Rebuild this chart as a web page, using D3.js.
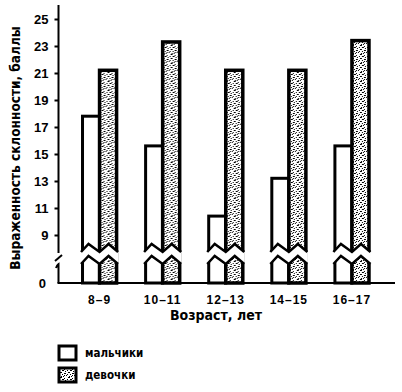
<!DOCTYPE html>
<html>
<head>
<meta charset="utf-8">
<script src="https://cdn.jsdelivr.net/npm/d3@7"></script>
<style>
  body { margin: 0; background: #fff; }
  text { font-family: "Liberation Sans", Arial, sans-serif; font-weight: bold; fill: #000; }
  .narrow { font-family: "Liberation Sans Narrow", "DejaVu Sans Condensed", sans-serif; }
</style>
</head>
<body>
<div id="chart"></div>
<script>
// data
var ages = ["8–9", "10–11", "12–13", "14–15", "16–17"];
var boys = [17.8, 15.6, 10.4, 13.2, 15.6];
var girls = [21.2, 23.3, 21.2, 21.2, 23.4];
var yTicks = [9, 11, 13, 15, 17, 19, 21, 23, 25];
var seriesNames = ["мальчики", "девочки"];

var width = 402, height = 392;
var baseY = 283;      // where the "0" sits
var breakY = 252;     // upper line of the cut

var svg = d3.select("#chart").append("svg")
  .attr("width", width)
  .attr("height", height);

// stipple texture for the girls' bars
var defs = svg.append("defs");
var pat = defs.append("pattern")
  .attr("id", "dots")
  .attr("patternUnits", "userSpaceOnUse")
  .attr("width", 8).attr("height", 9);
pat.append("rect").attr("width", 8).attr("height", 9).attr("fill", "#fff");
[[1,0],[2,0],[5,1],[0,2],[3,2],[4,2],[6,3],[1,4],[2,4],[5,5],[6,5],[0,6],[3,6],[7,7],[2,8],[4,8],[5,7]].forEach(function(p){
  pat.append("rect").attr("x", p[0]).attr("y", p[1]).attr("width", 1).attr("height", 1).attr("fill", "#000");
});

var y = d3.scaleLinear().domain([9, 25]).range([235, 19]);

var x0 = d3.scaleBand()
  .domain(ages)
  .range([68, 383.5])
  .paddingInner(0.46)
  .paddingOuter(0.23);

var x1 = d3.scaleBand()
  .domain(seriesNames)
  .range([0, x0.bandwidth()]);

var rows = ages.map(function(a, i){
  return {age: a, vals: [{name: seriesNames[0], v: boys[i]}, {name: seriesNames[1], v: girls[i]}]};
});

var groups = svg.selectAll(".grp")
  .data(rows)
  .enter().append("g")
  .attr("class", "grp")
  .attr("transform", function(d){ return "translate(" + x0(d.age) + ",0)"; });

groups.selectAll("rect")
  .data(function(d){ return d.vals; })
  .enter().append("rect")
  .attr("x", function(d){ return x1(d.name); })
  .attr("y", function(d){ return y(d.v); })
  .attr("width", x1.bandwidth())
  .attr("height", function(d){ return baseY - y(d.v); })
  .attr("fill", function(d, i){ return i == 0 ? "#fff" : "url(#dots)"; })
  .attr("stroke", "#000")
  .attr("stroke-width", function(d, i){ return i == 0 ? 3 : 3.5; });

// wavy cut through every group
var w = x0.bandwidth();
function wave(off){
  return [[-2, breakY + off], [6, breakY - 8 + off], [w / 2, breakY + off],
          [w / 2 + 9, breakY - 8 + off], [w + 2, breakY + off]];
}
var gap = 12;
groups.append("path")
  .attr("d", function(){
    var up = wave(0), lo = wave(gap).reverse();
    return d3.line()(up.concat(lo)) + "Z";
  })
  .attr("fill", "#fff");
[0, gap].forEach(function(off){
  groups.append("path")
    .attr("d", function(){
      return d3.line()(wave(off).map(function(p){ return [Math.max(-1.5, Math.min(w + 1.5, p[0])), p[1]]; }));
    })
    .attr("fill", "none")
    .attr("stroke", "#000")
    .attr("stroke-width", 2.5);
});

// y axis
var axisX = 58.5;
var yAxis = d3.axisLeft(y).tickValues(yTicks).tickSize(4).tickPadding(6);
var ga = svg.append("g")
  .attr("transform", "translate(" + axisX + ",0)")
  .call(yAxis);
ga.select(".domain").remove();
ga.selectAll(".tick line").attr("stroke", "#000").attr("stroke-width", 2);
ga.selectAll(".tick text").attr("font-size", 13).attr("font-family", null).style("font-weight", "bold");

// axis line with break
svg.append("line").attr("x1", axisX).attr("x2", axisX).attr("y1", 5).attr("y2", 253)
  .attr("stroke", "#000").attr("stroke-width", 2);
svg.append("line").attr("x1", 55).attr("x2", 62).attr("y1", 261).attr("y2", 255)
  .attr("stroke", "#000").attr("stroke-width", 2);
svg.append("path").attr("d", "M56,268 Q57,265 " + axisX + ",264 L" + axisX + "," + baseY)
  .attr("fill", "none").attr("stroke", "#000").attr("stroke-width", 2);

// baseline and zero
svg.append("line").attr("x1", axisX - 1).attr("x2", 395).attr("y1", baseY).attr("y2", baseY)
  .attr("stroke", "#000").attr("stroke-width", 2);
svg.append("text").attr("x", 46).attr("y", baseY + 5)
  .attr("text-anchor", "end").attr("font-size", 13).text("0");

// category labels
svg.selectAll(".cat")
  .data(ages)
  .enter().append("text")
  .attr("class", "cat")
  .attr("x", function(d){ return x0(d) + w / 2; })
  .attr("y", 304)
  .attr("text-anchor", "middle")
  .attr("font-size", 12)
  .attr("letter-spacing", 1)
  .text(function(d){ return d; });

// titles
svg.append("text")
  .attr("class", "narrow")
  .attr("x", 216).attr("y", 320)
  .attr("text-anchor", "middle")
  .attr("font-size", 14)
  .text("Возраст, лет");

svg.append("text")
  .attr("class", "narrow")
  .attr("transform", "translate(20,148) rotate(-90)")
  .attr("text-anchor", "middle")
  .attr("font-size", 13.5)
  .text("Выраженность склонности, баллы");

// legend
var leg = svg.selectAll(".leg")
  .data(seriesNames)
  .enter().append("g")
  .attr("class", "leg")
  .attr("transform", function(d, i){ return "translate(59," + (346 + i * 22) + ")"; });
leg.append("rect")
  .attr("width", 17).attr("height", 14)
  .attr("fill", function(d, i){ return i == 0 ? "#fff" : "url(#dots)"; })
  .attr("stroke", "#000").attr("stroke-width", 3);
leg.append("text")
  .attr("class", "narrow")
  .attr("x", 26).attr("y", 11)
  .attr("font-size", 11.5)
  .text(function(d){ return d; });
</script>
</body>
</html>
